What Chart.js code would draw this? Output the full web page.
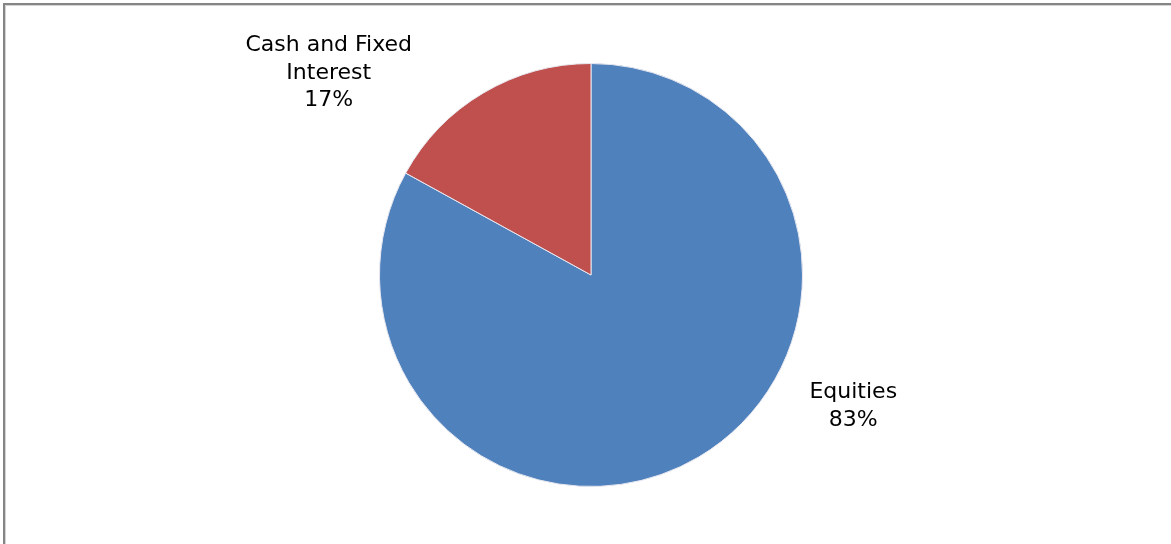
<!DOCTYPE html>
<html>
<head>
<meta charset="utf-8">
<script src="https://cdn.jsdelivr.net/npm/chart.js@4/dist/chart.umd.min.js"></script>
<style>
    html, body { margin: 0; padding: 0; background: #fff; }
    #wrap { position: relative; width: 1171px; height: 544px; overflow: hidden; }
    #frame {
        position: absolute; left: 3px; top: 3px; right: -10px; bottom: -10px;
        border-left: 2px solid #858585; border-top: 2px solid #858585;
        box-shadow: inset 1px 1px 0 #d4d4d4;
    }
    canvas { position: absolute; left: 0; top: 0; }
</style>
</head>
<body>
<div id="wrap">
    <div id="frame"></div>
    <canvas id="pie" width="1171" height="544"></canvas>
</div>
<script>
// --- Data ---
const categories = ['Equities', 'Cash and Fixed Interest'];
const shares = [83, 17];
const labelLines = [['Equities', '83%'], ['Cash and Fixed', 'Interest', '17%']];
const sliceColors = ['#4F81BD', '#C0504D'];

// label anchors relative to pie centre, in units of the radius
const labelSpots = [[1.24, 0.62], [-1.24, -0.955]];

// --- Outside labels, placed from the arcs the library drew ---
const outsideLabels = {
    id: 'outsideLabels',
    afterDatasetsDraw(chart) {
        const ctx = chart.ctx;
        const arcs = chart.getDatasetMeta(0).data;
        ctx.save();
        ctx.font = '22px "DejaVu Sans", Verdana, sans-serif';
        ctx.fillStyle = '#000';
        ctx.textAlign = 'center';
        ctx.textBaseline = 'middle';
        arcs.forEach((arc, i) => {
            const r = arc.outerRadius;
            const cx = arc.x + labelSpots[i][0] * r;
            const cy = arc.y + labelSpots[i][1] * r;
            const lines = labelLines[i];
            const lh = 27.5;
            lines.forEach((t, k) => {
                ctx.fillText(t, cx, cy + (k - (lines.length - 1) / 2) * lh);
            });
        });
        ctx.restore();
    }
};

new Chart(document.getElementById('pie').getContext('2d'), {
    type: 'pie',
    data: {
        labels: categories,
        datasets: [{
            data: shares,
            backgroundColor: sliceColors,
            borderColor: '#e8e8f0',
            borderWidth: 1
        }]
    },
    options: {
        responsive: false,
        animation: false,
        layout: { padding: { left: 11, right: 0, top: 63, bottom: 57 } },
        plugins: {
            legend: { display: false },
            tooltip: { enabled: false }
        }
    },
    plugins: [outsideLabels]
});
</script>
</body>
</html>
